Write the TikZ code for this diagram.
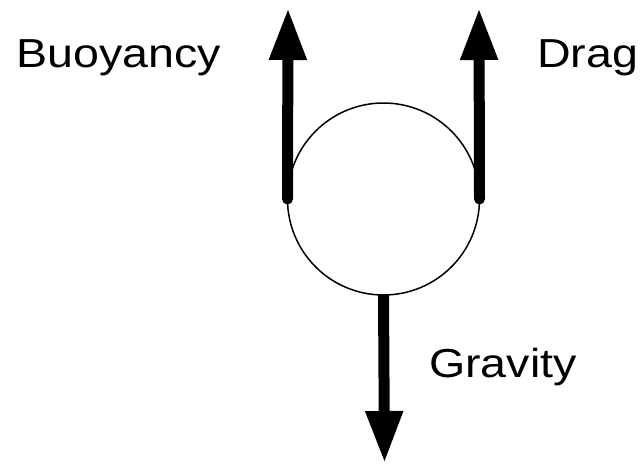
\documentclass[tikz,border=0pt]{standalone}
\usepackage{fontspec}
\setmainfont{Liberation Sans}[FakeStretch=1.15]
\usetikzlibrary{arrows.meta}
\begin{document}
\begin{tikzpicture}[x=1pt,y=-1pt,>={Triangle[length=52pt,width=35pt]}]
  \tikzstyle{forcearrow}=[->, line width=11pt]
  \tikzstyle{forcetext}=[anchor=base west, inner sep=0pt, font=\fontsize{40.5}{48}\selectfont]

  \useasboundingbox (0,0) rectangle (642,464);

  \node[draw, circle, line width=1.5pt, minimum size=192pt, inner sep=0pt, outer sep=0pt] (ball) at (383.5,199) {};

  \coordinate (buoyTop) at (288,8);
  \coordinate (dragTop) at (479,8);
  \coordinate (gravBottom) at (384.5,463);

  \draw[forcearrow, line cap=round] (ball.west) -- (buoyTop);
  \draw[forcearrow, line cap=round] (ball.east) -- (dragTop);
  \draw[forcearrow] (ball.south) -- (gravBottom);

  \node[forcetext] (buoyancy) at (16,67.3) {Buoyancy};
  \node[forcetext] (drag) at (537,67.3) {Drag};
  \node[forcetext] (gravity) at (429,377.3) {Gravity};
\end{tikzpicture}
\end{document}
